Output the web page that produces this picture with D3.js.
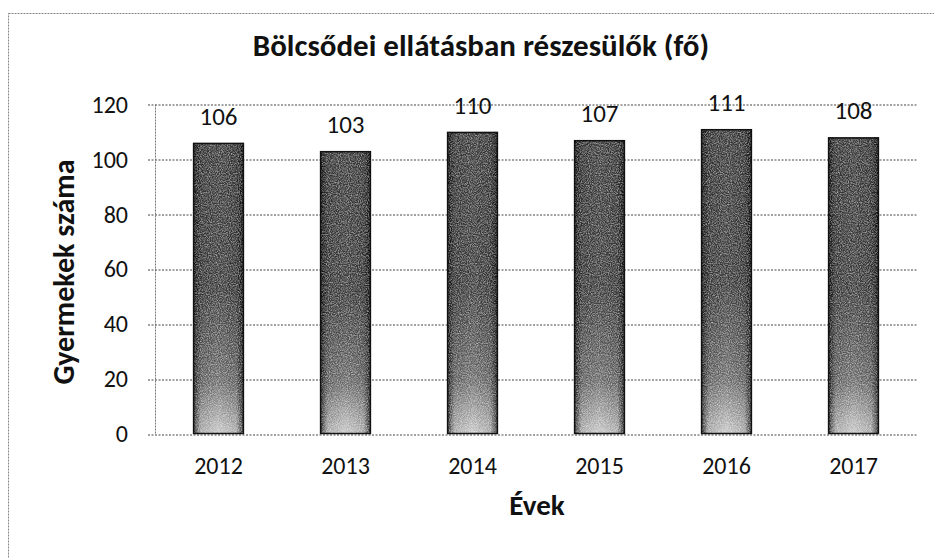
<!DOCTYPE html>
<html>
<head>
<meta charset="utf-8">
<script src="https://cdn.jsdelivr.net/npm/d3@7"></script>
<style>
  body { margin: 0; background: #fff; }
  text { font-family: Calibri, Carlito, Lato, sans-serif; fill: #111; }
</style>
</head>
<body>
<div id="chart"></div>
<script>
// data
var years = ["2012", "2013", "2014", "2015", "2016", "2017"];
var children = [106, 103, 110, 107, 111, 108];
var yTicks = [0, 20, 40, 60, 80, 100, 120];

var W = 934, H = 558;
var margin = {top: 104.5, right: 17, bottom: 124, left: 155},
    width = W - margin.left - margin.right,
    height = H - margin.top - margin.bottom;

var svg = d3.select("#chart")
  .append("svg")
    .attr("width", W)
    .attr("height", H);

// bar fill: scanned grey look
var defs = svg.append("defs");
var vg = defs.append("linearGradient").attr("id", "barV")
  .attr("x1", 0).attr("y1", 0).attr("x2", 0).attr("y2", 1);
vg.append("stop").attr("offset", "0%").attr("stop-color", "#383838");
vg.append("stop").attr("offset", "50%").attr("stop-color", "#3a3a3a");
vg.append("stop").attr("offset", "82%").attr("stop-color", "#6a6a6a");
vg.append("stop").attr("offset", "100%").attr("stop-color", "#c8c8c8");

var hg = defs.append("linearGradient").attr("id", "barH")
  .attr("x1", 0).attr("y1", 0).attr("x2", 1).attr("y2", 0);
hg.append("stop").attr("offset", "0%").attr("stop-color", "#000").attr("stop-opacity", 0.85);
hg.append("stop").attr("offset", "15%").attr("stop-color", "#000").attr("stop-opacity", 0.15);
hg.append("stop").attr("offset", "50%").attr("stop-color", "#000").attr("stop-opacity", 0);
hg.append("stop").attr("offset", "85%").attr("stop-color", "#000").attr("stop-opacity", 0.15);
hg.append("stop").attr("offset", "100%").attr("stop-color", "#000").attr("stop-opacity", 0.85);

var noise = defs.append("filter").attr("id", "grain")
  .attr("x", 0).attr("y", 0).attr("width", 1).attr("height", 1);
noise.append("feTurbulence").attr("type", "fractalNoise")
  .attr("baseFrequency", 0.9).attr("numOctaves", 2).attr("seed", 3).attr("result", "n");
noise.append("feColorMatrix").attr("in", "n").attr("type", "matrix")
  .attr("values", "0 0 0 0 0  0 0 0 0 0  0 0 0 0 0  0 0 0 -1.8 1.2").attr("result", "a");
noise.append("feFlood").attr("flood-color", "#fff").attr("result", "w");
noise.append("feComposite").attr("in", "w").attr("in2", "a").attr("operator", "in").attr("result", "spots");
noise.append("feComposite").attr("in", "spots").attr("in2", "SourceGraphic").attr("operator", "in");

// outer chart border
svg.append("rect")
  .attr("x", 8.5).attr("y", 13.5)
  .attr("width", W + 20).attr("height", H + 20)
  .attr("fill", "none")
  .attr("stroke", "#888")
  .attr("stroke-dasharray", "2,1");

var g = svg.append("g")
  .attr("transform", "translate(" + margin.left + "," + margin.top + ")");

// scales
var x = d3.scaleBand()
  .domain(years)
  .range([0, width])
  .paddingInner(0.6)
  .paddingOuter(0.3);

var y = d3.scaleLinear()
  .domain([0, 120])
  .range([height, 0]);

// gridlines
g.append("g")
  .selectAll("line")
  .data(yTicks)
  .enter()
  .append("line")
    .attr("x1", -7)
    .attr("x2", width)
    .attr("y1", function (d) { return Math.round(y(d)) + 0.5; })
    .attr("y2", function (d) { return Math.round(y(d)) + 0.5; })
    .attr("stroke", "#444")
    .attr("stroke-width", 1)
    .attr("stroke-dasharray", "2,1.5");

// y axis line
g.append("line")
  .attr("x1", 0.5).attr("x2", 0.5)
  .attr("y1", 0).attr("y2", height)
  .attr("stroke", "#777")
  .attr("stroke-dasharray", "2,1");

// y tick labels
var yAxis = g.append("g")
  .call(d3.axisLeft(y).tickValues(yTicks).tickSize(0).tickPadding(27));
yAxis.select(".domain").remove();
yAxis.selectAll("text")
  .style("font-size", "24px")
  .style("font-family", "Calibri, Carlito, Lato, sans-serif")
  .attr("fill", "#111");

// x tick labels
var xAxis = g.append("g")
  .attr("transform", "translate(0," + height + ")")
  .call(d3.axisBottom(x).tickSize(0).tickPadding(23));
xAxis.select(".domain").remove();
xAxis.selectAll("text")
  .style("font-size", "24px")
  .style("font-family", "Calibri, Carlito, Lato, sans-serif")
  .attr("fill", "#111");

// bars
var bars = g.append("g")
  .selectAll("g")
  .data(children)
  .enter()
  .append("g");

bars.append("rect")
  .attr("x", function (d, i) { return x(years[i]); })
  .attr("y", function (d) { return y(d); })
  .attr("width", x.bandwidth())
  .attr("height", function (d) { return height - y(d); })
  .attr("fill", "url(#barV)");

bars.append("rect")
  .attr("x", function (d, i) { return x(years[i]); })
  .attr("y", function (d) { return y(d); })
  .attr("width", x.bandwidth())
  .attr("height", function (d) { return height - y(d); })
  .attr("fill", "url(#barH)");

bars.append("rect")
  .attr("x", function (d, i) { return x(years[i]); })
  .attr("y", function (d) { return y(d); })
  .attr("width", x.bandwidth())
  .attr("height", function (d) { return height - y(d); })
  .attr("fill", "#fff")
  .attr("filter", "url(#grain)")
  .attr("opacity", 0.6);

bars.append("rect")
  .attr("x", function (d, i) { return x(years[i]) + 0.5; })
  .attr("y", function (d) { return y(d) + 0.5; })
  .attr("width", x.bandwidth() - 1)
  .attr("height", function (d) { return height - y(d) - 1; })
  .attr("fill", "none")
  .attr("stroke", "#111")
  .attr("stroke-width", 1.5);

// value labels
g.append("g")
  .selectAll("text")
  .data(children)
  .enter()
  .append("text")
    .attr("x", function (d, i) { return x(years[i]) + x.bandwidth() / 2; })
    .attr("y", function (d) { return y(d) - 18; })
    .attr("text-anchor", "middle")
    .style("font-size", "25px")
    .text(function (d) { return d; });

// title
svg.append("text")
  .attr("x", 481)
  .attr("y", 56)
  .attr("text-anchor", "middle")
  .style("font-size", "31px")
  .style("font-weight", "bold")
  .text("Bölcsődei ellátásban részesülők (fő)");

// axis titles
svg.append("text")
  .attr("transform", "translate(74," + 272 + ") rotate(-90)")
  .attr("text-anchor", "middle")
  .style("font-size", "30px")
  .style("font-weight", "bold")
  .text("Gyermekek száma");

svg.append("text")
  .attr("x", 537)
  .attr("y", 515)
  .attr("text-anchor", "middle")
  .style("font-size", "29px")
  .style("font-weight", "bold")
  .text("Évek");
</script>
</body>
</html>
